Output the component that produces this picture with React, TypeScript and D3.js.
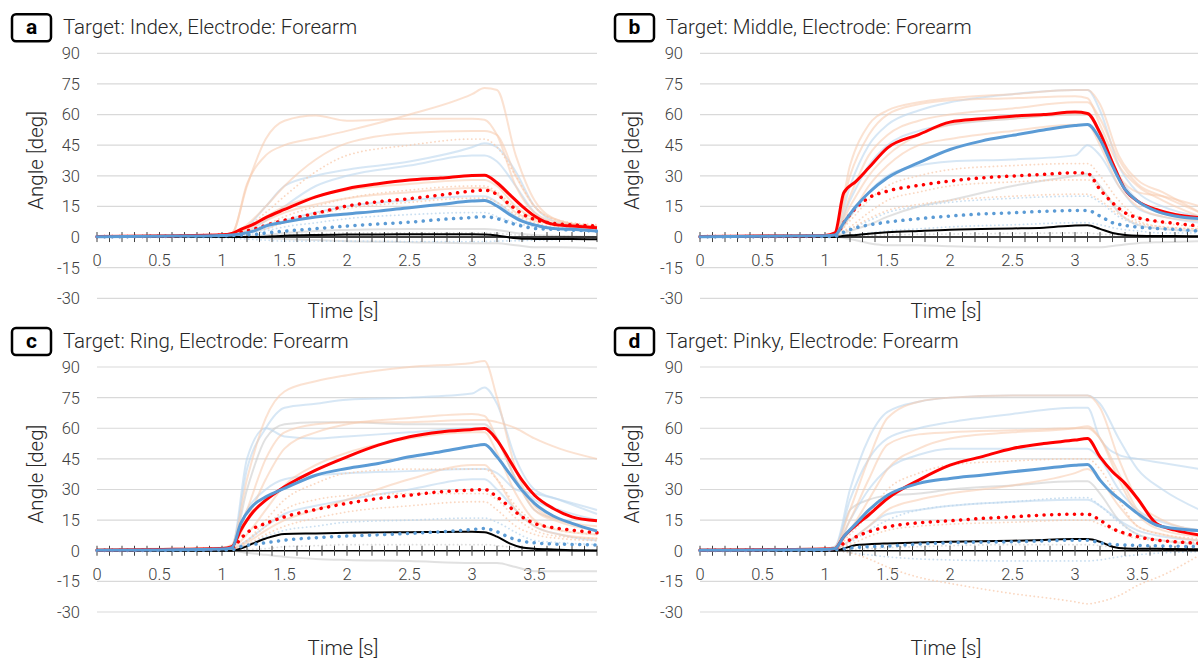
import React from 'react';
import * as d3 from 'd3';

// time grids (s)
const tMain = [0, 0.5, 1.0, 1.08, 1.15, 1.25, 1.35, 1.5, 1.75, 2.0, 2.25, 2.5, 2.75, 3.0, 3.1, 3.2, 3.3, 3.4, 3.5, 3.65, 3.8, 4.0];
const tBg = [0, 1.0, 1.08, 1.2, 1.35, 1.5, 1.75, 2.0, 2.5, 3.0, 3.1, 3.2, 3.35, 3.5, 3.7, 4.0];

const yTicks = [90, 75, 60, 45, 30, 15, 0, -15, -30];
const xTickLabels = [0, 0.5, 1, 1.5, 2, 2.5, 3, 3.5];
const targets = ['Index', 'Middle', 'Ring', 'Pinky'];
const letters = ['a', 'b', 'c', 'd'];

// panel a — Index
const redA = [0.3, 0.5, 1.1, 1.8, 3.8, 6.2, 9.5, 13.5, 19.7, 23.7, 26.1, 27.9, 28.9, 30.2, 30.3, 26.6, 20.9, 15.2, 10.3, 6.2, 5.4, 4.6];
const redDotA = [0.2, 0.4, 1.0, 1.5, 2.4, 3.8, 5.7, 8.2, 11.6, 15.2, 17.3, 18.8, 20.6, 22.5, 23.0, 20.9, 16.0, 11.4, 8.6, 6.7, 6.0, 5.4];
const blueA = [0.2, 0.4, 0.8, 1.0, 1.5, 2.9, 5.4, 7.3, 9.8, 11.3, 12.7, 14.4, 16.0, 17.6, 17.9, 15.2, 11.1, 7.8, 5.9, 4.2, 3.8, 2.9];
const blueDotA = [0.1, 0.3, 0.6, 0.8, 1.0, 1.2, 2.0, 2.9, 4.1, 5.4, 6.4, 7.3, 8.6, 9.6, 10.0, 9.0, 7.0, 5.4, 4.2, 3.8, 3.4, 2.9];
const blackA = [0, 0, 0, 0, 0, 0, 0.1, 0.6, 1.0, 1.2, 1.3, 1.4, 1.4, 1.4, 1.3, 0.8, -0.2, -0.8, -0.9, -1.0, -1.0, -1.1];

const bgOrangeA = [
  [0.5, 0.8, 1.5, 26, 40, 45, 48.5, 52, 60, 70, 73, 72, 40, 18, 8, 5],
  [0.5, 0.8, 2, 25, 48, 57, 59.5, 57, 58, 58, 57.5, 50, 25, 12, 7, 5],
  [0.5, 1, 1.5, 6, 15, 25, 38, 46, 51, 52, 52, 50, 30, 15, 8, 5],
  [0.5, 1, 1.5, 5, 10, 15, 20, 23, 26, 28, 28, 25, 15, 9, 6, 4],
  [0.5, 0.8, 1.2, 4, 8, 12, 16, 19, 22, 24, 24, 21, 12, 8, 6, 4],
];
const bgOrangeDotA = [
  [0.3, 0.8, 1, 5, 12, 20, 32, 40, 45, 48, 48, 44, 30, 15, 8, 6],
  [0.3, 0.5, 1, 3, 6, 10, 15, 19, 23, 25, 25, 22, 14, 9, 6, 5],
  [0.3, 0.5, 0.8, 2, 4, 7, 11, 14, 17, 19, 19, 17, 11, 7, 5, 4],
];
const bgBlueA = [
  [0.5, 0.8, 1, 5, 15, 25, 30, 33, 37, 44, 46, 44, 32, 15, 7, 5],
  [0.5, 0.8, 1, 3, 8, 15, 25, 30, 35, 40, 40, 37, 25, 12, 6, 4],
  [0.3, 0.5, 0.8, 2, 4, 8, 12, 15, 18, 20, 20, 17, 10, 6, 4, 3],
];
const bgBlueDotA = [
  [0, 0.3, 0.5, 1, 3, 5, 7, 9, 11, 12, 12, 10, 7, 5, 4, 3],
  [0, -0.3, -0.5, -1, -1.5, -2, -2, -2, -2.2, -2.2, -2.2, -2, -1.8, -1.5, -1.2, -1],
];
const bgGrayA = [
  [0, 0, 0, 0, -0.5, -1, -1.5, -2, -2.5, -3, -3, -3, -4, -5, -5, -5.5],
  [0, 0, 0, 0.5, 1, 2, 3, 3.5, 4, 4, 4, 3.5, 2, 1, 0.5, 0],
];
const bgGrayDotA = [
  [0, 0, 0, 0.2, 0.5, 1, 1.5, 2, 2, 2, 2, 1.8, 1, 0.5, 0.3, 0.2],
];

// panel b — Middle
const redB = [0.3, 0.5, 0.8, 2.1, 21.7, 27.4, 33.9, 43.7, 50.2, 56.3, 57.9, 59.2, 60.0, 61.2, 60.5, 51.0, 36.4, 23.3, 17.6, 13.5, 11.1, 9.5];
const redDotB = [0.2, 0.3, 0.4, 0.5, 7.0, 14.4, 19.2, 22.5, 25.3, 27.4, 29.0, 29.9, 30.7, 31.5, 31.2, 23.3, 16.8, 11.9, 9.5, 7.8, 6.7, 5.4];
const blueB = [0.2, 0.4, 0.6, 1.0, 7.0, 15.2, 21.7, 29.0, 36.4, 42.9, 47.0, 49.8, 52.4, 54.6, 55.1, 47.8, 34.7, 23.3, 17.6, 12.7, 10.3, 9.0];
const blueDotB = [0.1, 0.2, 0.3, 0.4, 2.4, 4.6, 5.9, 7.3, 9.0, 10.3, 11.3, 11.9, 12.6, 13.0, 13.0, 10.3, 7.0, 5.7, 4.9, 4.2, 3.8, 2.9];
const blackB = [0, 0, 0, 0, 0.6, 1.0, 1.6, 2.3, 3.0, 3.6, 3.9, 4.2, 4.6, 5.7, 5.8, 4.0, 2.0, 1.0, 0.6, 0.5, 0.5, 0.4];

const bgOrangeB = [
  [0.5, 0.8, 2, 35, 55, 62, 66, 68, 70, 72, 72, 65, 40, 28, 22, 12],
  [0.5, 0.8, 2, 30, 50, 60, 65, 67, 68, 69, 68, 55, 35, 25, 18, 10],
  [0.5, 0.8, 1.5, 20, 40, 50, 57, 60, 63, 66, 66, 58, 38, 26, 20, 12],
  [0.5, 0.8, 1.5, 15, 30, 40, 50, 55, 58, 60, 60, 50, 30, 22, 20, 15],
  [0.5, 0.8, 1, 10, 25, 35, 45, 48, 52, 55, 55, 45, 25, 15, 10, 8],
];
const bgOrangeDotB = [
  [0.3, 0.5, 1, 8, 18, 25, 30, 33, 35, 36, 36, 30, 18, 10, 7, 5],
  [0.3, 0.5, 1, 5, 12, 18, 22, 25, 27, 28, 28, 24, 14, 8, 5, 4],
  [0.3, 0.5, 0.8, 4, 9, 13, 16, 18, 20, 21, 21, 18, 11, 7, 5, 4],
];
const bgBlueB = [
  [0.5, 0.8, 1.5, 25, 45, 55, 62, 66, 70, 72, 72, 62, 35, 22, 15, 10],
  [0.5, 0.8, 1.5, 18, 35, 45, 52, 55, 58, 60, 60, 52, 30, 18, 12, 8],
  [0.3, 0.5, 1, 10, 22, 30, 35, 37, 38, 40, 45, 40, 25, 14, 10, 7],
];
const bgBlueDotB = [
  [0.3, 0.5, 1, 4, 8, 12, 15, 17, 19, 20, 20, 17, 10, 6, 4, 3],
  [0, 0.3, 0.5, 1, 2, 3, 4, 5, 6, 7, 7, 6, 4, 3, 2, 2],
];
const bgGrayB = [
  [0, 0, 0, -1, -3, -4, -4, -4.5, -5, -5, -5, -5, -4, -3, -2.5, -2],
  [0, 0, 0.5, 3, 6, 10, 15, 18, 25, 30, 31, 25, 12, 6, 4, 3],
];
const bgGrayDotB = [
  [0, 0, 0, 0.3, 0.7, 1, 1.3, 1.5, 1.8, 2, 2, 1.5, 1, 0.7, 0.5, 0.3],
];

// panel c — Ring
const redC = [0.3, 0.6, 1.1, 2.0, 10.1, 19.1, 24.8, 31.3, 39.5, 46.0, 51.7, 55.8, 58.2, 59.4, 59.9, 54.2, 44.4, 34.6, 27.2, 20.7, 16.6, 14.7];
const redDotC = [0.2, 0.4, 0.8, 1.0, 6.0, 10.9, 13.4, 16.6, 20.2, 23.2, 25.6, 27.2, 28.9, 29.7, 30.0, 26.4, 21.5, 16.6, 13.4, 11.3, 10.1, 8.8];
const blueC = [0.2, 0.4, 0.8, 1.5, 13.4, 22.3, 26.4, 30.5, 37.0, 40.3, 42.7, 46.0, 48.5, 51.2, 52.0, 46.0, 37.8, 29.7, 23.2, 17.0, 13.4, 9.6];
const blueDotC = [0.1, 0.2, 0.4, 0.6, 2.0, 3.1, 3.9, 5.2, 6.4, 7.2, 7.8, 8.5, 9.3, 10.4, 10.9, 9.3, 6.5, 4.7, 3.9, 3.3, 3.1, 2.8];
const blackC = [0, 0, 0, 0, 1.1, 3.6, 6.0, 8.2, 8.5, 8.8, 9.0, 9.1, 9.2, 9.3, 9.1, 6.9, 3.6, 1.6, 1.0, 0.6, 0.3, 0.1];

const bgOrangeC = [
  [0.8, 1.5, 3, 35, 65, 78, 83, 86, 90, 92, 93, 75, 40, 22, 15, 12],
  [0.5, 1, 2, 20, 45, 58, 62, 63, 63, 64, 64, 63, 60, 55, 50, 45],
  [0.5, 1, 2, 15, 35, 50, 58, 62, 65, 67, 66, 55, 35, 20, 14, 10],
  [0.5, 1, 1.5, 8, 20, 32, 42, 48, 55, 58, 58, 48, 28, 15, 10, 8],
  [0.5, 0.8, 1, 4, 10, 15, 20, 25, 35, 42, 42, 35, 20, 12, 8, 6],
];
const bgOrangeDotC = [
  [0.3, 0.5, 1, 5, 15, 25, 33, 38, 40, 40, 40, 35, 22, 14, 10, 8],
  [0.3, 0.5, 0.8, 3, 8, 12, 16, 19, 22, 24, 24, 20, 12, 8, 6, 5],
  [0.3, 0.5, 0.8, 5, 12, 20, 25, 27, 28, 28, 28, 25, 16, 10, 7, 6],
];
const bgBlueC = [
  [0.5, 1, 2, 40, 60, 70, 72, 74, 75, 77, 80, 72, 45, 30, 25, 18],
  [0.5, 1, 2, 45, 60, 56, 55, 56, 58, 60, 60, 55, 35, 25, 20, 15],
  [0.5, 0.8, 1.5, 20, 30, 35, 37, 38, 39, 40, 40, 38, 30, 28, 25, 20],
  [0.3, 0.5, 1, 5, 12, 18, 22, 25, 30, 35, 35, 30, 20, 12, 8, 5],
];
const bgBlueDotC = [
  [0.3, 0.5, 0.8, 3, 7, 10, 12, 14, 15, 16, 16, 14, 9, 5, 4, 3],
];
const bgGrayC = [
  [0.5, 1, 2, 30, 55, 62, 63, 63, 62, 62, 62, 55, 35, 20, 15, 10],
  [0, 0, 0, -1, -2, -3, -4, -4.5, -5, -6, -6, -6, -8, -10, -10, -10],
];
const bgGrayDotC = [
  [0, 0, 0, 0.5, 1, 2, 2.5, 3, 3, 3, 3, 2.5, 1.5, 1, 0.5, 0.3],
];

// panel d — Pinky
const redD = [0.3, 0.5, 0.8, 1.1, 6.9, 12.6, 17.5, 25.6, 34.6, 41.9, 46.0, 50.1, 52.5, 54.2, 55.0, 46.0, 38.7, 33.0, 25.6, 13.4, 10.1, 7.7];
const redDotD = [0.2, 0.3, 0.5, 0.8, 3.6, 6.9, 9.3, 11.7, 13.7, 14.7, 15.8, 16.6, 17.5, 17.9, 17.9, 15.0, 10.9, 8.5, 6.9, 5.2, 4.4, 3.6];
const blueD = [0.2, 0.4, 0.6, 1.1, 6.9, 13.4, 19.9, 27.2, 33.0, 35.4, 37.0, 38.7, 40.3, 41.9, 42.3, 34.6, 28.1, 23.2, 18.3, 12.6, 10.9, 9.8];
const blueDotD = [0.1, 0.2, 0.3, 0.5, 1.0, 1.6, 2.0, 2.3, 3.3, 3.9, 4.2, 4.4, 4.8, 5.2, 5.2, 3.9, 3.1, 2.8, 2.6, 2.4, 2.2, 2.0];
const blackD = [0, 0, 0, 0, 1.1, 2.8, 3.2, 3.6, 4.1, 4.4, 4.7, 4.9, 5.3, 5.7, 5.7, 4.4, 2.0, 1.1, 1.0, 1.0, 0.8, 0.7];

const bgOrangeD = [
  [0.5, 1, 2, 20, 45, 65, 73, 75, 76, 76, 76, 70, 45, 25, 15, 10],
  [0.5, 1, 1.5, 15, 35, 52, 57, 58, 59, 60, 60, 55, 38, 20, 12, 8],
  [0.5, 1, 1.5, 10, 25, 40, 50, 55, 58, 60, 61, 55, 35, 18, 10, 7],
  [0.5, 0.8, 1, 5, 12, 20, 25, 28, 32, 38, 40, 35, 22, 12, 8, 5],
];
const bgOrangeDotD = [
  [0.3, 0.5, 1, 8, 18, 30, 38, 42, 44, 45, 45, 40, 25, 12, 8, 6],
  [0, 0, 0, -1, -4, -8, -13, -16, -21, -25, -26, -25, -22, -17, -12, -2],
  [0.3, 0.5, 0.8, 3, 7, 10, 12, 13, 14, 15, 15, 13, 9, 6, 5, 4],
];
const bgBlueD = [
  [0.5, 1, 2, 30, 55, 68, 73, 75, 76, 76, 76, 72, 55, 40, 30, 20],
  [0.5, 1, 2, 25, 45, 55, 60, 63, 67, 70, 70, 55, 47, 45, 43, 40],
  [0.5, 0.8, 1.5, 15, 30, 40, 47, 50, 50, 50, 50, 45, 30, 20, 14, 10],
  [0.3, 0.5, 1, 5, 12, 18, 20, 22, 24, 25, 25, 22, 15, 10, 7, 5],
];
const bgBlueDotD = [
  [0, 0, 0, -1, -2, -3, -4, -4.5, -5, -5, -5, -4.5, -3, -2, -1, -0.5],
  [0.3, 0.5, 0.8, 4, 10, 15, 20, 22, 24, 26, 26, 22, 14, 8, 5, 4],
];
const bgGrayD = [
  [0.5, 0.8, 1.5, 20, 25, 27, 28, 30, 32, 34, 34, 28, 15, 8, 5, 3],
];
const bgGrayDotD = [
  [0, 0, 0, 0.5, 1, 1.5, 2, 2.5, 3, 3, 3, 2.5, 1.5, 1, 0.5, 0.3],
];

const panels = [
  { red: redA, redDot: redDotA, blue: blueA, blueDot: blueDotA, black: blackA, bgO: bgOrangeA, bgOD: bgOrangeDotA, bgB: bgBlueA, bgBD: bgBlueDotA, bgG: bgGrayA, bgGD: bgGrayDotA },
  { red: redB, redDot: redDotB, blue: blueB, blueDot: blueDotB, black: blackB, bgO: bgOrangeB, bgOD: bgOrangeDotB, bgB: bgBlueB, bgBD: bgBlueDotB, bgG: bgGrayB, bgGD: bgGrayDotB },
  { red: redC, redDot: redDotC, blue: blueC, blueDot: blueDotC, black: blackC, bgO: bgOrangeC, bgOD: bgOrangeDotC, bgB: bgBlueC, bgBD: bgBlueDotC, bgG: bgGrayC, bgGD: bgGrayDotC },
  { red: redD, redDot: redDotD, blue: blueD, blueDot: blueDotD, black: blackD, bgO: bgOrangeD, bgOD: bgOrangeDotD, bgB: bgBlueD, bgBD: bgBlueDotD, bgG: bgGrayD, bgGD: bgGrayDotD },
];

const colLeft = [97, 700];
const rowTop = [53.3, 367];
const timeLabelY = [318, 655];
const plotW = 500;
const plotH = 245;
const yLabelX = [36, 632];
const font = 'Roboto, "Noto Sans", sans-serif';

function Panel({ idx }: { idx: number }) {
  const p = panels[idx];
  const col = idx % 2;
  const row = Math.floor(idx / 2);
  const left = colLeft[col];
  const top = rowTop[row];
  const x = d3.scaleLinear().domain([0, 4]).range([left, left + plotW]);
  const y = d3.scaleLinear().domain([-30, 90]).range([top + plotH, top]);

  const mk = (ts: number[]) =>
    d3.line<number>()
      .x((_, i) => x(ts[i]))
      .y((d) => y(d))
      .curve(d3.curveMonotoneX);
  const lineMain = mk(tMain);
  const lineBg = mk(tBg);
  const minor = d3.range(0, 4.0001, 0.1);

  const bg = (arr: number[][], color: string, op: number, dotted: boolean, key: string) =>
    arr.map((v, i) => (
      <path key={key + i} d={lineBg(v) || ''} fill="none" stroke={color} strokeOpacity={op}
        strokeWidth={dotted ? 1.8 : 2} strokeDasharray={dotted ? '0.1 4' : undefined}
        strokeLinecap={dotted ? 'round' : 'butt'} />
    ));

  return (
    <g>
      {yTicks.filter((v) => v !== 0).map((v) => (
        <line key={'g' + v} x1={left} x2={left + plotW} y1={y(v)} y2={y(v)} stroke="#d9d9d9" strokeWidth={1.2} />
      ))}
      {yTicks.map((v) => (
        <text key={'yl' + v} x={left - 17} y={y(v)} dy="0.36em" textAnchor="end" fontSize={16.5} fontWeight={300} fill="#404040" fontFamily={font}>{v}</text>
      ))}
      {xTickLabels.map((v) => (
        <text key={'xl' + v} x={x(v)} y={y(0) + 29} textAnchor="middle" fontSize={16.5} fontWeight={300} fill="#404040" fontFamily={font}>{v}</text>
      ))}
      {bg(p.bgG, '#c8c8c8', 0.55, false, 'g')}
      {bg(p.bgGD, '#c8c8c8', 0.6, true, 'gd')}
      {bg(p.bgB, '#bdd7ee', 0.6, false, 'b')}
      {bg(p.bgBD, '#bdd7ee', 0.8, true, 'bd')}
      {bg(p.bgO, '#f8cbad', 0.55, false, 'o')}
      {bg(p.bgOD, '#f8cbad', 0.75, true, 'od')}
      <line x1={left} x2={left + plotW} y1={y(0)} y2={y(0)} stroke="#000" strokeWidth={1.5} />
      {minor.map((t, i) => (
        <line key={'t' + i} x1={x(t)} x2={x(t)} y1={y(0) - 5} y2={y(0) + 5} stroke="#404040" strokeWidth={1} />
      ))}
      <path d={lineMain(p.black) || ''} fill="none" stroke="#000" strokeWidth={2} />
      <path d={lineMain(p.redDot) || ''} fill="none" stroke="#ff0000" strokeWidth={3.5} strokeDasharray="0.1 7.5" strokeLinecap="round" />
      <path d={lineMain(p.blueDot) || ''} fill="none" stroke="#5b9bd5" strokeWidth={3.5} strokeDasharray="0.1 7.5" strokeLinecap="round" />
      <path d={lineMain(p.red) || ''} fill="none" stroke="#ff0000" strokeWidth={3} />
      <path d={lineMain(p.blue) || ''} fill="none" stroke="#5b9bd5" strokeWidth={3} />
      <text x={left + 246} y={timeLabelY[row]} textAnchor="middle" fontSize={20.5} fontWeight={300} fill="#262626" fontFamily={font}>Time [s]</text>
      <text transform={`translate(${yLabelX[col]},${top + 107}) rotate(-90)`} textAnchor="middle" dy="0.35em" fontSize={20.5} fontWeight={300} fill="#262626" fontFamily={font}>Angle [deg]</text>
      <rect x={left - 85} y={top - 39} width={39} height={27} rx={4} fill="#fff" stroke="#000" strokeWidth={2.5} />
      <text x={left - 65.5} y={top - 19} textAnchor="middle" fontSize={21} fontWeight="bold" fill="#000" fontFamily={font}>{letters[idx]}</text>
      <text x={left - 34} y={top - 19} fontSize={20.5} fontWeight={300} fill="#262626" fontFamily={font}>{`Target: ${targets[idx]}, Electrode: Forearm`}</text>
    </g>
  );
}

export default function App() {
  return (
    <svg width={1198} height={659} style={{ position: 'absolute', left: 0, top: 0, background: '#fff' }}>
      <rect width={1198} height={659} fill="#fff" />
      {[0, 1, 2, 3].map((i) => <Panel key={i} idx={i} />)}
    </svg>
  );
}
